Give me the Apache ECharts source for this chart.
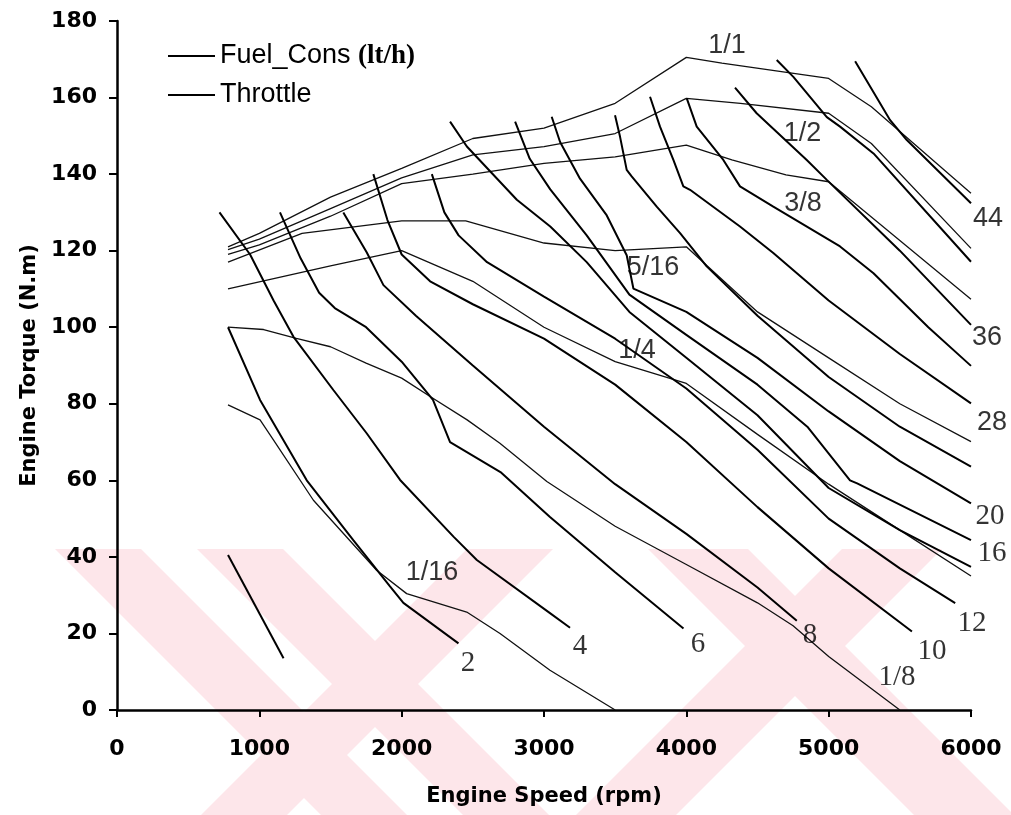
<!DOCTYPE html>
<html>
<head>
<meta charset="utf-8">
<script src="https://cdn.jsdelivr.net/npm/echarts@6/dist/echarts.min.js"></script>
<style>
  html, body { margin: 0; padding: 0; background: #fff; }
  #chart { width: 1011px; height: 815px; }
</style>
</head>
<body>
<div id="chart"></div>
<script>
// Engine map: fuel consumption contours (lt/h) and part-throttle torque curves.
// Each curve is a list of [engine speed (rpm), torque (N.m)] points.

// Fuel consumption contours
const fuel1  = [[780, 40.5], [1170, 13.5]];
const fuel2  = [[780, 100], [1005, 81], [1333, 60], [1660, 44.4], [1918, 32.3], [2012, 28], [2399, 17.4]];
const fuel4  = [[720, 130], [935, 119], [1100, 107], [1240, 97.5], [1520, 83.6], [1754, 72.3], [1989, 60.1], [2364, 45.3], [2528, 39.2], [3042, 25.3], [3183, 21.5]];
const fuel6  = [[1145, 130], [1290, 118], [1420, 109], [1530, 105], [1750, 100], [2000, 91], [2220, 81], [2340, 70], [2700, 62], [3040, 50.5], [3500, 36], [3980, 21.3]];
const fuel8  = [[1590, 130], [1755, 119.5], [1872, 111], [2100, 103], [2500, 90], [3000, 74], [3500, 59], [4000, 46], [4500, 32], [4776, 23.3]];
const fuel10 = [[1801, 140], [1900, 128], [2000, 119], [2200, 112], [2500, 106], [3000, 97], [3500, 85], [4000, 70], [4500, 53], [5000, 37], [5585, 20.5]];
const fuel12 = [[2212, 140], [2300, 130], [2400, 124], [2600, 117], [3000, 108], [3500, 97], [4000, 84], [4500, 68], [5000, 50], [5500, 37], [5889, 27.9]];
const fuel14 = [[2340, 153.7], [2458, 147.2], [2809, 133.3], [3044, 126.3], [3300, 117], [3600, 104], [4000, 92], [4500, 77], [5000, 58], [5500, 47], [6000, 37.4]];
const fuel16 = [[2797, 153.7], [2900, 144], [3044, 136], [3300, 124], [3600, 108.5], [4000, 98], [4500, 85], [4850, 74], [5150, 60], [5200, 59.2], [6000, 44.4]];
const fuel20 = [[3054, 155], [3113, 148.4], [3253, 138.8], [3441, 129.2], [3581, 118.8], [3628, 110.1], [4000, 104], [4500, 92], [5000, 78], [5500, 65], [6000, 54]];
const fuel24 = [[3499, 155.4], [3534, 149.8], [3581, 141.1], [3616, 139.4], [3792, 131.5], [3956, 124.6], [4143, 115.9], [4500, 103], [5000, 87], [5500, 74], [6000, 63.6]];
const fuel28 = [[3745, 160.2], [3815, 152.4], [3909, 143.7], [3979, 136.8], [4026, 135.9], [4377, 126.3], [4611, 119.4], [5000, 107], [5500, 93], [6000, 80.1]];
const fuel32 = [[4003, 159.8], [4073, 152.4], [4260, 143.7], [4377, 136.8], [4611, 131.5], [5080, 121.1], [5315, 114.1], [5700, 100], [6000, 89.9]];
const fuel36 = [[4342, 162.6], [4494, 155.9], [4846, 143.7], [4987, 138.5], [5500, 120], [6000, 100.6]];
const fuel40 = [[4635, 169.8], [4752, 165.4], [4987, 154.9], [5080, 152.4], [5315, 145.4], [6000, 117.1]];
const fuel44 = [[5186, 169.5], [5432, 154.1], [5549, 148.9], [6000, 132.4]];

// Throttle opening curves
const thr1_1  = [[780, 121], [1000, 124.5], [1500, 134], [2000, 141.5], [2500, 149.3], [3000, 152], [3500, 158.5], [4000, 170.5], [4250, 169], [5000, 165], [5300, 157.6], [6000, 135]];
const thr1_2  = [[780, 120.3], [1000, 123], [1500, 131], [2000, 139], [2500, 145], [3000, 147.2], [3500, 150.6], [4000, 159.8], [4380, 158.5], [5000, 155.9], [5300, 148], [6000, 120.6]];
const thr3_8  = [[780, 119], [1000, 121.5], [1500, 129], [2000, 137.5], [2500, 140], [3000, 142.8], [3500, 144.5], [4000, 147.6], [4320, 143.7], [4700, 139.8], [5000, 138], [6000, 107.3]];
const thr5_16 = [[780, 117], [1300, 124.5], [2000, 127.8], [2450, 127.8], [3000, 122], [3500, 120], [4000, 121], [4500, 104], [5000, 92], [5500, 80], [6000, 70.1]];
const thr1_4  = [[780, 110], [1500, 116], [2000, 120], [2500, 112], [3000, 100], [3500, 91], [4000, 85.3], [4500, 72], [5000, 59], [5500, 47], [6000, 35]];
const thr1_8  = [[780, 100], [1030, 99.4], [1260, 97.1], [1500, 94.9], [1750, 90.6], [2000, 86.7], [2200, 81.9], [2460, 75.8], [2690, 69.7], [3020, 59.7], [3500, 48], [4000, 38], [4500, 28], [4750, 22], [5000, 14], [5500, 0]];
const thr1_16 = [[780, 79.7], [1005, 75.8], [1100, 70.5], [1380, 54.8], [1824, 36.5], [2035, 30.4], [2457, 25.6], [2691, 20], [3042, 10.4], [3500, 0]];

const fuelCurves = [fuel1, fuel2, fuel4, fuel6, fuel8, fuel10, fuel12, fuel14, fuel16, fuel20, fuel24, fuel28, fuel32, fuel36, fuel40, fuel44];
const throttleCurves = [thr1_1, thr1_2, thr3_8, thr5_16, thr1_4, thr1_8, thr1_16];

// Curve labels: text and anchor point (rpm, N.m)
const sansLabelText   = ['1/1', '1/2', '3/8', '5/16', '1/4', '1/16', '44', '36', '28'];
const sansLabelRpm    = [4286, 4816, 4820, 3766, 3653, 2213, 6120, 6113, 6148];
const sansLabelTorque = [173.7, 150.7, 132.4, 115.7, 93.8, 36.0, 128.3, 97.2, 75.2];
const serifLabelText   = ['20', '16', '12', '10', '8', '6', '4', '2', '1/8'];
const serifLabelRpm    = [6134, 6148, 6007, 5726, 4869, 4082, 3253, 2466, 5480];
const serifLabelTorque = [50.7, 41.0, 22.7, 15.2, 19.6, 17.2, 16.5, 12.3, 8.5];

// Axis ticks
const xTicks = { min: 0, max: 6000, step: 1000 };
const yTicks = { min: 0, max: 180, step: 20 };

const FUEL_NAME = 'Fuel_Cons (lt/h)';
const THR_NAME = 'Throttle';

const zip3 = (a, b, c) => a.map((t, i) => [b[i], c[i], t]);

const series = [];
fuelCurves.forEach(function (pts) {
  series.push({
    type: 'line', name: FUEL_NAME, data: pts, symbol: 'none', silent: true,
    lineStyle: { color: '#000', width: 2 }, itemStyle: { color: '#000' }, z: 3
  });
});
throttleCurves.forEach(function (pts) {
  series.push({
    type: 'line', name: THR_NAME, data: pts, symbol: 'none', silent: true,
    lineStyle: { color: '#111', width: 1.3 }, itemStyle: { color: '#000' }, z: 2
  });
});
function labelSeries(data, family, size) {
  return {
    type: 'scatter', data: data, symbolSize: 1, clip: false, silent: true,
    itemStyle: { color: 'rgba(0,0,0,0)' },
    label: {
      show: true, position: 'inside', color: '#000',
      fontFamily: family, fontSize: size,
      formatter: function (p) { return p.value[2]; }
    },
    labelLayout: { hideOverlap: false },
    z: 5
  };
}
series.push(labelSeries(zip3(sansLabelText, sansLabelRpm, sansLabelTorque), "'Liberation Sans', Arial, sans-serif", 27));
series.push(labelSeries(zip3(serifLabelText, serifLabelRpm, serifLabelTorque), "'Liberation Serif', 'Times New Roman', serif", 29));

// Light pink diagonal band decoration in the lower part of the page
const bandTop = 549, bandBottom = 815;
const bands = [
  { x: 55, w: 86, dir: 1 },
  { x: 197, w: 86, dir: 1 },
  { x: 467, w: 86, dir: -1 },
  { x: 648, w: 100, dir: 1 },
  { x: 842, w: 100, dir: -1 }
];
const h = bandBottom - bandTop;
const bandGraphics = bands.map(function (b) {
  return {
    type: 'polygon', silent: true, z: -10,
    shape: { points: [[b.x, bandTop], [b.x + b.w, bandTop], [b.x + b.w + b.dir * h, bandBottom], [b.x + b.dir * h, bandBottom]] },
    style: { fill: '#fde6ea' }
  };
});

const tickFont = "'DejaVu Sans', Arial, sans-serif";

const chart = echarts.init(document.getElementById('chart'), null, { renderer: 'canvas' });
chart.setOption({
  animation: false,
  backgroundColor: '#fff',
  graphic: bandGraphics,
  grid: { left: 117, right: 40, top: 21, bottom: 105, containLabel: false },
  legend: {
    orient: 'vertical', left: 163, top: 36,
    itemWidth: 47, itemHeight: 2, itemGap: 9, icon: 'rect',
    data: [FUEL_NAME, THR_NAME],
    selectedMode: false,
    formatter: function (name) {
      return name === FUEL_NAME ? '{s|Fuel_Cons }{t|(lt/h)}' : '{s|' + name + '}';
    },
    textStyle: {
      color: '#000', lineHeight: 30,
      rich: {
        s: { fontFamily: "'Liberation Sans', Arial, sans-serif", fontSize: 27, color: '#000', lineHeight: 30 },
        t: { fontFamily: "'Liberation Serif', 'Times New Roman', serif", fontSize: 27, fontWeight: 'bold', color: '#000', lineHeight: 30 }
      }
    }
  },
  xAxis: {
    type: 'value', min: xTicks.min, max: xTicks.max, interval: xTicks.step,
    name: 'Engine Speed (rpm)', nameLocation: 'middle', nameGap: 76,
    nameTextStyle: { fontFamily: tickFont, fontWeight: 'bold', fontSize: 21, color: '#000' },
    axisLine: { onZero: false, lineStyle: { color: '#000', width: 2.5 } },
    axisTick: { show: true, inside: false, length: 7, lineStyle: { color: '#000', width: 2 } },
    axisLabel: {
      margin: 28, fontFamily: tickFont, fontWeight: 'bold', fontSize: 22, color: '#000',
      formatter: function (v) { return String(v); }
    },
    splitLine: { show: false }
  },
  yAxis: {
    type: 'value', min: yTicks.min, max: yTicks.max, interval: yTicks.step,
    name: 'Engine Torque (N.m)', nameLocation: 'middle', nameGap: 74, nameRotate: 90,
    nameTextStyle: { fontFamily: tickFont, fontWeight: 'bold', fontSize: 21, color: '#000' },
    axisLine: { onZero: false, lineStyle: { color: '#000', width: 2.5 } },
    axisTick: { show: true, inside: false, length: 8, lineStyle: { color: '#000', width: 2 } },
    axisLabel: {
      margin: 20, fontFamily: tickFont, fontWeight: 'bold', fontSize: 22, color: '#000',
      formatter: function (v) { return String(v); }
    },
    splitLine: { show: false }
  },
  series: series
});
</script>
</body>
</html>
